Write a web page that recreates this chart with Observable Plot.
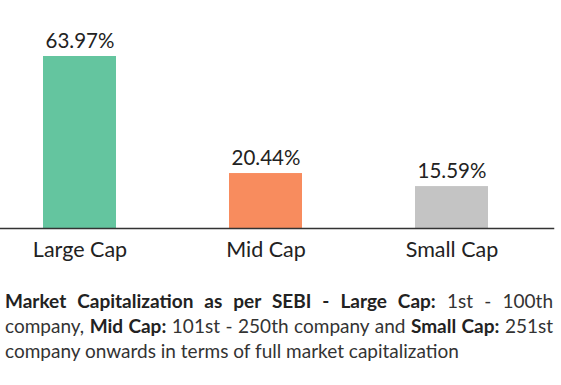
<!DOCTYPE html>
<html>
<head>
<meta charset="utf-8">
<script src="https://cdn.jsdelivr.net/npm/d3@7"></script>
<script src="https://cdn.jsdelivr.net/npm/@observablehq/plot@0.6"></script>
<style>
  html, body { margin: 0; padding: 0; background: #fff; }
  body { width: 561px; font-family: Lato, "Open Sans", sans-serif; color: #222; }
  #caption {
    margin: 18px 8px 0 5px;
    font-size: 19px;
    line-height: 25px;
    text-align: justify;
    color: #333;
  }
  #caption b { font-weight: 700; color: #222; }
</style>
</head>
<body>
<div id="chart"></div>
<div id="caption"><b>Market Capitalization as per SEBI - Large Cap:</b> 1st - 100th company, <b>Mid Cap:</b> 101st - 250th company and <b>Small Cap:</b> 251st company onwards in terms of full market capitalization</div>
<script>
const categories = ["Large Cap", "Mid Cap", "Small Cap"];
const shares = [63.97, 20.44, 15.59];
const colors = ["#64c59f", "#f88c5e", "#c4c4c4"];

const data = categories.map((c, i) => ({category: c, share: shares[i], color: colors[i]}));

const chart = Plot.plot({
  width: 561,
  height: 270,
  marginTop: 56,
  marginBottom: 42,
  marginLeft: 0,
  marginRight: 8,
  style: {fontFamily: "Lato, sans-serif", background: "#fff"},
  x: {domain: categories, range: [42, 488], paddingInner: 0.61, paddingOuter: 0, label: null},
  y: {domain: [0, d3.max(shares)], axis: null},
  marks: [
    Plot.barY(data, {x: "category", y: "share", fill: "color"}),
    Plot.frame({anchor: "bottom", stroke: "#333", strokeWidth: 1.5}),
    Plot.text(data, {x: "category", y: "share", text: d => d.share.toFixed(2) + "%", dy: -15, fontSize: 20.5, fill: "#222"}),
    Plot.axisX({tickSize: 0, tickPadding: 13, fontSize: 21.5, fill: "#222", label: null})
  ]
});
document.getElementById("chart").appendChild(chart);
</script>
</body>
</html>
